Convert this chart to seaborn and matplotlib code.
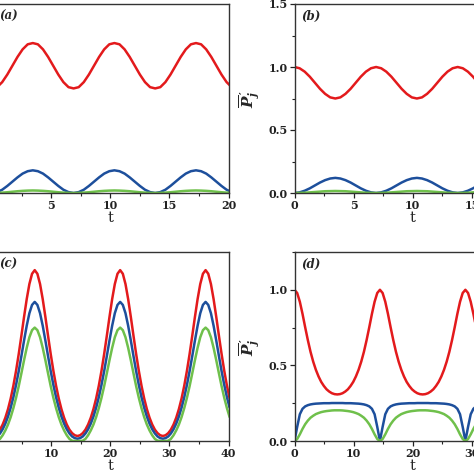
import matplotlib
matplotlib.use("Agg")
import matplotlib.pyplot as plt
import numpy as np
import seaborn as sns
from matplotlib.ticker import MultipleLocator

RED = "#e31a1c"
BLUE = "#1d4f9c"
GREEN = "#6fc04b"

# time grids (top row: 0..20, bottom row: 0..40)
t_ab = np.linspace(0, 20.27, 48)
t_cd = np.linspace(0, 40.19, 90)

# panel (a)
a_red = [
    0.83, 0.84, 0.88, 0.94, 1.01, 1.08, 1.14, 1.18, 1.19, 1.18, 1.14, 1.08, 1.01, 0.94, 0.88, 0.84,
    0.83, 0.84, 0.88, 0.94, 1.01, 1.08, 1.14, 1.18, 1.19, 1.18, 1.14, 1.08, 1.01, 0.94, 0.88, 0.84,
    0.83, 0.84, 0.88, 0.94, 1.01, 1.08, 1.14, 1.18, 1.19, 1.18, 1.14, 1.08, 1.01, 0.94, 0.88, 0.84,
]
a_blue = [
    0.0, 0.007, 0.026, 0.056, 0.09, 0.124, 0.154, 0.173, 0.18, 0.173, 0.154, 0.124, 0.09, 0.056, 0.026, 0.007,
    0.0, 0.007, 0.026, 0.056, 0.09, 0.124, 0.154, 0.173, 0.18, 0.173, 0.154, 0.124, 0.09, 0.056, 0.026, 0.007,
    0.0, 0.007, 0.026, 0.056, 0.09, 0.124, 0.154, 0.173, 0.18, 0.173, 0.154, 0.124, 0.09, 0.056, 0.026, 0.007,
]
a_green = [
    0.0, 0.001, 0.003, 0.006, 0.01, 0.014, 0.017, 0.019, 0.02, 0.019, 0.017, 0.014, 0.01, 0.006, 0.003, 0.001,
    0.0, 0.001, 0.003, 0.006, 0.01, 0.014, 0.017, 0.019, 0.02, 0.019, 0.017, 0.014, 0.01, 0.006, 0.003, 0.001,
    0.0, 0.001, 0.003, 0.006, 0.01, 0.014, 0.017, 0.019, 0.02, 0.019, 0.017, 0.014, 0.01, 0.006, 0.003, 0.001,
]

# panel (b)
b_red = [
    1.0, 0.99, 0.963, 0.923, 0.875, 0.827, 0.787, 0.759, 0.75, 0.759, 0.787, 0.827, 0.875, 0.923, 0.963, 0.99,
    1.0, 0.99, 0.963, 0.923, 0.875, 0.827, 0.787, 0.759, 0.75, 0.759, 0.787, 0.827, 0.875, 0.923, 0.963, 0.99,
    1.0, 0.99, 0.963, 0.923, 0.875, 0.827, 0.787, 0.759, 0.75, 0.759, 0.787, 0.827, 0.875, 0.923, 0.963, 0.99,
]
b_blue = [
    0.0, 0.005, 0.018, 0.037, 0.06, 0.083, 0.102, 0.115, 0.12, 0.115, 0.102, 0.083, 0.06, 0.037, 0.018, 0.005,
    0.0, 0.005, 0.018, 0.037, 0.06, 0.083, 0.102, 0.115, 0.12, 0.115, 0.102, 0.083, 0.06, 0.037, 0.018, 0.005,
    0.0, 0.005, 0.018, 0.037, 0.06, 0.083, 0.102, 0.115, 0.12, 0.115, 0.102, 0.083, 0.06, 0.037, 0.018, 0.005,
]
b_green = [
    0.0, 0.001, 0.002, 0.005, 0.008, 0.011, 0.014, 0.015, 0.016, 0.015, 0.014, 0.011, 0.008, 0.005, 0.002, 0.001,
    0.0, 0.001, 0.002, 0.005, 0.008, 0.011, 0.014, 0.015, 0.016, 0.015, 0.014, 0.011, 0.008, 0.005, 0.002, 0.001,
    0.0, 0.001, 0.002, 0.005, 0.008, 0.011, 0.014, 0.015, 0.016, 0.015, 0.014, 0.011, 0.008, 0.005, 0.002, 0.001,
]

# panel (c)
c_red = [
    0.033, 0.038, 0.052, 0.075, 0.109, 0.154, 0.211, 0.281, 0.365, 0.463, 0.574, 0.695, 0.820, 0.938, 1.038, 1.106,
    1.130, 1.106, 1.038, 0.938, 0.820, 0.695, 0.574, 0.463, 0.365, 0.281, 0.211, 0.154, 0.109, 0.075, 0.052, 0.038,
    0.033, 0.038, 0.052, 0.075, 0.109, 0.154, 0.211, 0.281, 0.365, 0.463, 0.574, 0.695, 0.820, 0.938, 1.038, 1.106,
    1.130, 1.106, 1.038, 0.938, 0.820, 0.695, 0.574, 0.463, 0.365, 0.281, 0.211, 0.154, 0.109, 0.075, 0.052, 0.038,
    0.033, 0.038, 0.052, 0.075, 0.109, 0.154, 0.211, 0.281, 0.365, 0.463, 0.574, 0.695, 0.820, 0.938, 1.038, 1.106,
    1.130, 1.106, 1.038, 0.938, 0.820, 0.695, 0.574, 0.463, 0.365, 0.281,
]
c_blue = [
    0.015, 0.019, 0.030, 0.050, 0.078, 0.115, 0.162, 0.220, 0.289, 0.370, 0.461, 0.561, 0.664, 0.762, 0.845, 0.900,
    0.920, 0.900, 0.845, 0.762, 0.664, 0.561, 0.461, 0.370, 0.289, 0.220, 0.162, 0.115, 0.078, 0.050, 0.030, 0.019,
    0.015, 0.019, 0.030, 0.050, 0.078, 0.115, 0.162, 0.220, 0.289, 0.370, 0.461, 0.561, 0.664, 0.762, 0.845, 0.900,
    0.920, 0.900, 0.845, 0.762, 0.664, 0.561, 0.461, 0.370, 0.289, 0.220, 0.162, 0.115, 0.078, 0.050, 0.030, 0.019,
    0.015, 0.019, 0.030, 0.050, 0.078, 0.115, 0.162, 0.220, 0.289, 0.370, 0.461, 0.561, 0.664, 0.762, 0.845, 0.900,
    0.920, 0.900, 0.845, 0.762, 0.664, 0.561, 0.461, 0.370, 0.289, 0.220,
]
c_green = [
    0.0, 0.0, 0.002, 0.014, 0.038, 0.070, 0.109, 0.158, 0.217, 0.285, 0.362, 0.447, 0.534, 0.616, 0.686, 0.733,
    0.750, 0.733, 0.686, 0.616, 0.534, 0.447, 0.362, 0.285, 0.217, 0.158, 0.109, 0.070, 0.038, 0.014, 0.002, 0.0,
    0.0, 0.0, 0.002, 0.014, 0.038, 0.070, 0.109, 0.158, 0.217, 0.285, 0.362, 0.447, 0.534, 0.616, 0.686, 0.733,
    0.750, 0.733, 0.686, 0.616, 0.534, 0.447, 0.362, 0.285, 0.217, 0.158, 0.109, 0.070, 0.038, 0.014, 0.002, 0.0,
    0.0, 0.0, 0.002, 0.014, 0.038, 0.070, 0.109, 0.158, 0.217, 0.285, 0.362, 0.447, 0.534, 0.616, 0.686, 0.733,
    0.750, 0.733, 0.686, 0.616, 0.534, 0.447, 0.362, 0.285, 0.217, 0.158,
]

# panel (d)
d_red = [
    1.0, 0.979, 0.921, 0.841, 0.752, 0.667, 0.590, 0.525, 0.471, 0.427, 0.391, 0.364, 0.342, 0.327, 0.316, 0.310,
    0.308, 0.310, 0.316, 0.327, 0.342, 0.364, 0.391, 0.427, 0.471, 0.525, 0.590, 0.667, 0.752, 0.841, 0.921, 0.979,
    1.0, 0.979, 0.921, 0.841, 0.752, 0.667, 0.590, 0.525, 0.471, 0.427, 0.391, 0.364, 0.342, 0.327, 0.316, 0.310,
    0.308, 0.310, 0.316, 0.327, 0.342, 0.364, 0.391, 0.427, 0.471, 0.525, 0.590, 0.667, 0.752, 0.841, 0.921, 0.979,
    1.0, 0.979, 0.921, 0.841, 0.752, 0.667, 0.590, 0.525, 0.471, 0.427, 0.391, 0.364, 0.342, 0.327, 0.316, 0.310,
    0.308, 0.310, 0.316, 0.327, 0.342, 0.364, 0.391, 0.427, 0.471, 0.525,
]
d_blue = [
    0.0, 0.093, 0.177, 0.213, 0.229, 0.237, 0.242, 0.245, 0.247, 0.248, 0.249, 0.250, 0.250, 0.250, 0.251, 0.251,
    0.251, 0.251, 0.251, 0.250, 0.250, 0.250, 0.249, 0.248, 0.247, 0.245, 0.242, 0.237, 0.229, 0.213, 0.177, 0.093,
    0.0, 0.093, 0.177, 0.213, 0.229, 0.237, 0.242, 0.245, 0.247, 0.248, 0.249, 0.250, 0.250, 0.250, 0.251, 0.251,
    0.251, 0.251, 0.251, 0.250, 0.250, 0.250, 0.249, 0.248, 0.247, 0.245, 0.242, 0.237, 0.229, 0.213, 0.177, 0.093,
    0.0, 0.093, 0.177, 0.213, 0.229, 0.237, 0.242, 0.245, 0.247, 0.248, 0.249, 0.250, 0.250, 0.250, 0.251, 0.251,
    0.251, 0.251, 0.251, 0.250, 0.250, 0.250, 0.249, 0.248, 0.247, 0.245,
]
d_green = [
    0.0, 0.013, 0.044, 0.080, 0.111, 0.135, 0.154, 0.167, 0.178, 0.185, 0.191, 0.195, 0.198, 0.200, 0.202, 0.203,
    0.203, 0.203, 0.202, 0.200, 0.198, 0.195, 0.191, 0.185, 0.178, 0.167, 0.154, 0.135, 0.111, 0.080, 0.044, 0.013,
    0.0, 0.013, 0.044, 0.080, 0.111, 0.135, 0.154, 0.167, 0.178, 0.185, 0.191, 0.195, 0.198, 0.200, 0.202, 0.203,
    0.203, 0.203, 0.202, 0.200, 0.198, 0.195, 0.191, 0.185, 0.178, 0.167, 0.154, 0.135, 0.111, 0.080, 0.044, 0.013,
    0.0, 0.013, 0.044, 0.080, 0.111, 0.135, 0.154, 0.167, 0.178, 0.185, 0.191, 0.195, 0.198, 0.200, 0.202, 0.203,
    0.203, 0.203, 0.202, 0.200, 0.198, 0.195, 0.191, 0.185, 0.178, 0.167,
]

sns.set_theme(style="ticks")
plt.rcParams.update({
    "font.family": ["DejaVu Serif"],
    "font.weight": "bold",
    "mathtext.fontset": "custom",
    "mathtext.it": "DejaVu Serif:italic:bold",
    "mathtext.rm": "DejaVu Serif:bold",
    "axes.edgecolor": "#333333",
    "axes.linewidth": 1.0,
    "xtick.direction": "out",
    "ytick.direction": "out",
})

W = 474.0


def rect(left, top, right, bottom):
    return [left / W, 1 - bottom / W, (right - left) / W, (bottom - top) / W]


fig = plt.figure(figsize=(4.74, 4.74), dpi=100)
fig.patch.set_facecolor("white")

# the left column's y axis lies outside the cropped picture, so it carries no labels
panels = [
    ("(a)", rect(-8, 4, 228.5, 193), t_ab, (a_red, a_blue, a_green), 20, 5, 1.5, False),
    ("(b)", rect(294.5, 4, 531, 193), t_ab, (b_red, b_blue, b_green), 20, 5, 1.5, True),
    ("(c)", rect(-8, 252, 228.5, 441), t_cd, (c_red, c_blue, c_green), 40, 10, 1.25, False),
    ("(d)", rect(294.5, 252, 531, 441), t_cd, (d_red, d_blue, d_green), 40, 10, 1.25, True),
]

axes = []
for tag, pos, t, series, xmax, xstep, ymax, show_y in panels:
    ax = fig.add_axes(pos)
    axes.append(ax)
    for vals, col in zip(series, (RED, BLUE, GREEN)):
        sns.lineplot(x=t, y=vals, ax=ax, color=col, linewidth=1.8)
    ax.set_xlim(0, xmax)
    ax.set_ylim(0, ymax)
    ax.xaxis.set_major_locator(MultipleLocator(xstep))
    ax.xaxis.set_minor_locator(MultipleLocator(xstep / 2))
    ax.yaxis.set_major_locator(MultipleLocator(0.5))
    ax.yaxis.set_minor_locator(MultipleLocator(0.25))
    ax.tick_params(which="major", length=3.5, width=0.9, pad=1.2, labelsize=8,
                   colors="#222222")
    ax.tick_params(which="minor", length=2, width=0.8, colors="#222222")
    ax.set_xlabel("t", fontsize=10.5, fontweight="normal", labelpad=0)
    if show_y:
        ax.set_ylabel(r"$\overline{P}^{\,\prime}_{j}$", fontsize=11, labelpad=5)
    else:
        ax.set_ylabel("")
        ax.tick_params(axis="y", labelleft=False)
    ax.text(0.03, 0.935, tag, transform=ax.transAxes, fontsize=8.5,
            fontweight="bold", fontstyle="italic", va="center", ha="left")

# tick labels that fall wholly outside the cropped picture are not drawn
fig.canvas.draw()
renderer = fig.canvas.get_renderer()
for ax in axes:
    for lbl in ax.get_xticklabels():
        bb = lbl.get_window_extent(renderer)
        if bb.x1 <= 0 or bb.x0 >= W:
            lbl.set_visible(False)

fig.savefig("out.png", dpi=100, facecolor="white")
